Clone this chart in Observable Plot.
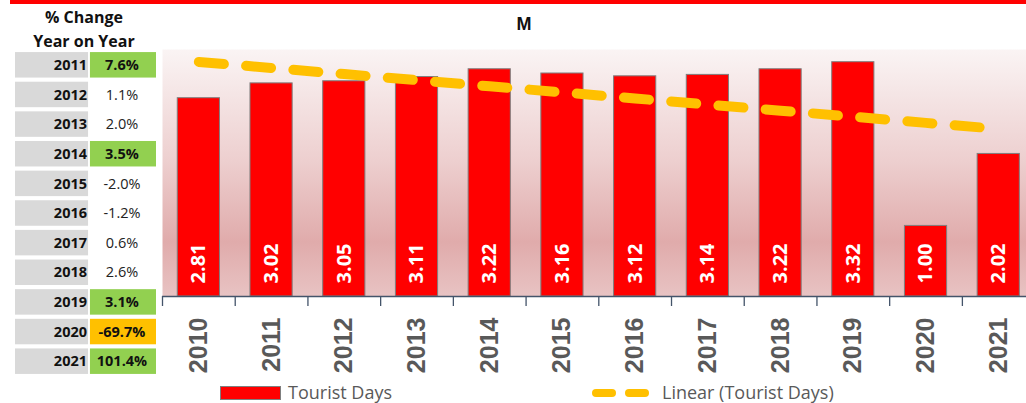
<!DOCTYPE html>
<html>
<head>
<meta charset="utf-8">
<script src="https://cdn.jsdelivr.net/npm/d3@7"></script>
<script src="https://cdn.jsdelivr.net/npm/@observablehq/plot@0.6"></script>
<style>
  body { margin: 0; background: #ffffff; }
  #wrap { position: relative; width: 1026px; height: 403px; overflow: hidden; font-family: "Open Sans", sans-serif; background: #fff; }
  .abs { position: absolute; white-space: nowrap; }
  #wrap svg { max-width: none !important; }
</style>
</head>
<body>
<div id="wrap"></div>
<script>
// ---------------- data ----------------
const years = ["2010","2011","2012","2013","2014","2015","2016","2017","2018","2019","2020","2021"];
const touristDays = [2.81, 3.02, 3.05, 3.11, 3.22, 3.16, 3.12, 3.14, 3.22, 3.32, 1.00, 2.02];
const changeYears = ["2011","2012","2013","2014","2015","2016","2017","2018","2019","2020","2021"];
const changePct = [7.6, 1.1, 2.0, 3.5, -2.0, -1.2, 0.6, 2.6, 3.1, -69.7, 101.4];
const chartTitle = "M";
const tableTitle = ["% Change", "Year on Year"];
const seriesName = "Tourist Days";
const trendName = "Linear (Tourist Days)";

// ---------------- derived ----------------
const data = years.map((y, i) => ({year: y, value: touristDays[i], idx: i}));
// least-squares linear trend (Excel "Linear" trendline)
const mx = d3.mean(data, d => d.idx), my = d3.mean(data, d => d.value);
const slope = d3.sum(data, d => (d.idx - mx) * (d.value - my)) / d3.sum(data, d => (d.idx - mx) ** 2);
const trend = data.map(d => ({year: d.year, trend: my + slope * (d.idx - mx)}));

const tableData = changeYears.map((y, i) => ({year: y, pct: changePct[i]}));
const cellColor = v => v >= 3 ? "#92d050" : v <= -3 ? "#ffc000" : "#ffffff";
const isHi = d => d.pct >= 3 || d.pct <= -3;

const wrap = document.getElementById("wrap");

// ---------------- main chart ----------------
const W = 1040, mL = 162, mR = 5.4;
const xStep = (W - mL - mR) / years.length;
const axisColor = "#44546a";

const chart = Plot.plot({
  width: W, height: 403,
  marginLeft: mL, marginRight: mR, marginTop: 49, marginBottom: 107,
  style: {background: "transparent", overflow: "visible", fontFamily: "Open Sans, sans-serif", maxWidth: "none"},
  x: {type: "band", domain: years, paddingInner: 0.42, paddingOuter: 0.21, round: false, axis: null},
  y: {domain: [0, 3.5], axis: null},
  marks: [
    Plot.frame({fill: "url(#bgGrad)", stroke: null}),
    Plot.barY(data, {x: "year", y: "value", fill: "#ff0000", stroke: "#7f7f7f", strokeWidth: 1}),
    Plot.text(data, {x: "year", y: 0, text: d => d.value.toFixed(2), rotate: -90, textAnchor: "start",
      dy: -13, fill: "#ffffff", fontWeight: "bold", fontSize: 20, fontFamily: "Open Sans, sans-serif"}),
    Plot.line(trend, {x: "year", y: "trend", stroke: "#ffc000", strokeWidth: 10,
      strokeDasharray: "25.1 22.3", strokeLinecap: "round"}),
    Plot.ruleY([0], {stroke: axisColor, strokeWidth: 1.3}),
    Plot.ruleX(years, {x: d => d, y1: 0, y2: 0, insetBottom: -10, dx: -xStep / 2, stroke: axisColor, strokeWidth: 1.3}),
    Plot.text(years, {x: d => d, y: 0, text: d => d, rotate: -90, textAnchor: "end", dy: 21,
      fill: "#595959", fontWeight: "bold", fontSize: 25, fontFamily: "Liberation Sans, Arial, sans-serif"})
  ]
});
// gradient definition for the plot-area background
const ns = "http://www.w3.org/2000/svg";
const defs = document.createElementNS(ns, "defs");
defs.innerHTML = `<linearGradient id="bgGrad" x1="0" y1="0" x2="0" y2="1">
  <stop offset="0" stop-color="#faf4f4"/>
  <stop offset="0.45" stop-color="#edcfcf"/>
  <stop offset="0.78" stop-color="#e0abab"/>
  <stop offset="1" stop-color="#e8c3c3"/>
</linearGradient>`;
chart.insertBefore(defs, chart.firstChild);
chart.style.position = "absolute";
chart.style.left = "0px";
chart.style.top = "0px";
wrap.appendChild(chart);

// ---------------- left table ----------------
const table = Plot.plot({
  width: 170, height: 403,
  marginLeft: 15, marginRight: 14, marginTop: 50, marginBottom: 27,
  style: {background: "transparent", overflow: "visible", fontFamily: "Open Sans, sans-serif", maxWidth: "none"},
  x: {type: "band", domain: ["year", "chg"], paddingInner: 0.04, paddingOuter: 0, round: false, axis: null},
  y: {type: "band", domain: changeYears, paddingInner: 0.14, paddingOuter: 0.07, round: false, axis: null},
  color: {type: "identity"},
  marks: [
    Plot.cell(tableData, {x: () => "year", y: "year", fill: "#d9d9d9", insetRight: -4}),
    Plot.cell(tableData, {x: () => "chg", y: "year", fill: d => cellColor(d.pct), insetLeft: 3}),
    Plot.text(tableData, {x: () => "year", y: "year", text: "year", textAnchor: "end", dx: 37,
      fontWeight: "bold", fontSize: 14.5, fill: "#111"}),
    Plot.text(tableData.filter(isHi), {x: () => "chg", y: "year", text: d => d.pct.toFixed(1) + "%",
      fontWeight: "bold", fontSize: 14.5, fill: "#111"}),
    Plot.text(tableData.filter(d => !isHi(d)), {x: () => "chg", y: "year", text: d => d.pct.toFixed(1) + "%",
      fontWeight: "normal", fontSize: 14.5, fill: "#222"})
  ]
});
table.style.position = "absolute";
table.style.left = "0px";
table.style.top = "0px";
wrap.appendChild(table);

// ---------------- html text: titles, legend ----------------
function add(html, css) {
  const d = document.createElement("div");
  d.className = "abs";
  d.innerHTML = html;
  Object.assign(d.style, css);
  wrap.appendChild(d);
  return d;
}
add("", {left: "10px", top: "0px", width: "1016px", height: "4px", background: "#ff0000"});
add(chartTitle, {left: "504px", top: "14px", width: "40px", textAlign: "center",
  fontFamily: "Liberation Sans, Arial, sans-serif", fontWeight: "bold", fontSize: "18px", color: "#111"});
add(tableTitle[0], {left: "14px", top: "5px", width: "140px", textAlign: "center",
  fontWeight: "bold", fontSize: "16px", lineHeight: "24px", color: "#111"});
add(tableTitle[1], {left: "14px", top: "29px", width: "140px", textAlign: "center",
  fontWeight: "bold", fontSize: "16px", lineHeight: "24px", color: "#111"});
// legend
add("", {left: "220px", top: "386px", width: "59px", height: "12px", background: "#ff0000", border: "1px solid #7f7f7f"});
add(seriesName, {left: "288px", top: "379px", fontSize: "18px", lineHeight: "26px", color: "#595959"});
add("", {left: "592px", top: "389px", width: "24px", height: "8px", background: "#ffc000", borderRadius: "4px"});
add("", {left: "625px", top: "389px", width: "24px", height: "8px", background: "#ffc000", borderRadius: "4px"});
add(trendName, {left: "662px", top: "379px", fontSize: "18px", lineHeight: "26px", color: "#595959"});
</script>
</body>
</html>
